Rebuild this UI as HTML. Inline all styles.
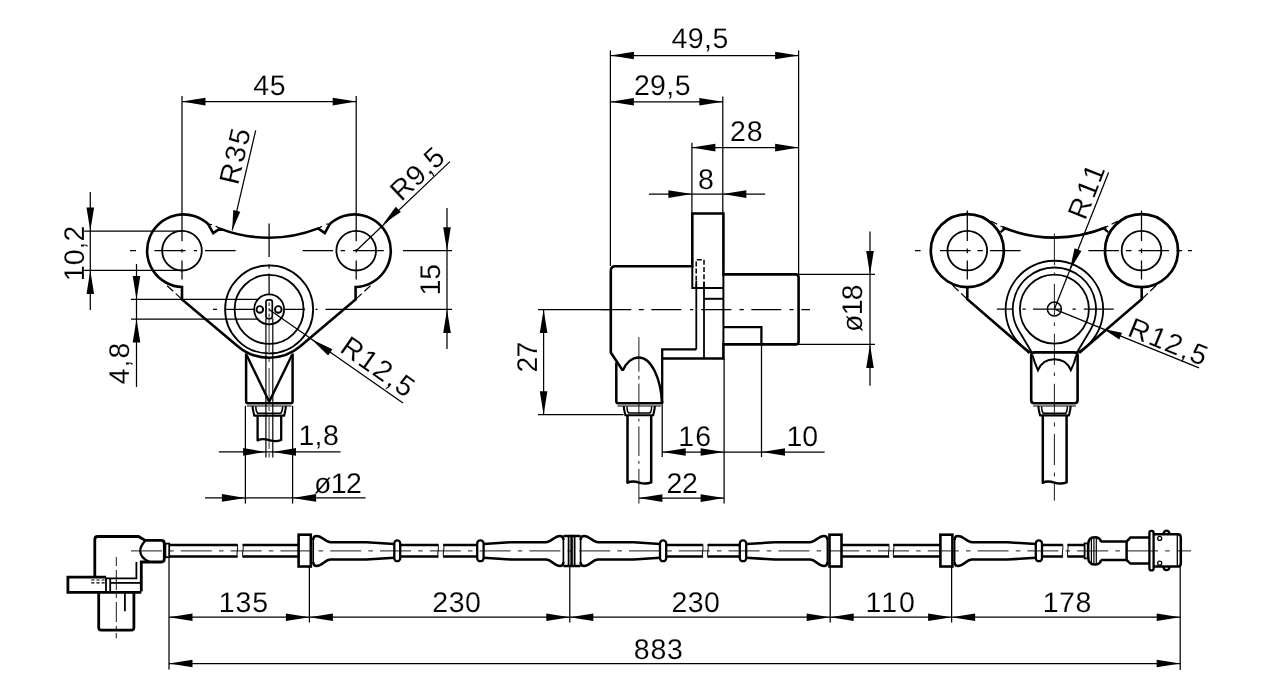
<!DOCTYPE html>
<html><head><meta charset="utf-8"><title>Drawing</title>
<style>
html,body{margin:0;padding:0;background:#fff;}
body{width:1280px;height:700px;overflow:hidden;}
svg{display:block;will-change:transform;}
svg *{stroke:#000;fill:none;}
svg text{text-rendering:geometricPrecision;font-family:"Liberation Sans",sans-serif;font-size:28.5px;fill:#000;stroke:#fff;stroke-width:0.15px;}
svg .a{fill:#000;stroke:none;}
</style></head><body>
<svg width="1280" height="700" viewBox="0 0 1280 700">
<rect x="0" y="0" width="1280" height="700" style="fill:#fff;stroke:none"/>
<g id="v1">
<path d="M208.3 224.3A36.3 36.3 0 1 0 182 287L182 299.4L238.07 346.41A48.3 48.3 0 0 0 300.33 346.25L355.6 299.4L355.6 287A36.3 36.3 0 1 0 329.6 224.3L324.8 233.1L318.2 228.4A135.5 135.5 0 0 1 219.9 228.6L213.2 233.1Z" stroke-width="2.6" stroke-linejoin="miter" stroke-linecap="butt" fill="none"/>
<line x1="208.3" y1="224.3" x2="212" y2="224.6" stroke-width="1.25"/>
<line x1="219.9" y1="228.6" x2="215.6" y2="226" stroke-width="1.25"/>
<line x1="329.6" y1="224.3" x2="326" y2="224" stroke-width="1.25"/>
<line x1="318.2" y1="228.4" x2="322" y2="226.2" stroke-width="1.25"/>
<line x1="182" y1="299.4" x2="167.1" y2="285.7" stroke-width="1.25" stroke-dasharray="8.5 3.5 8.2 9"/>
<line x1="355.6" y1="299.4" x2="370.5" y2="285.7" stroke-width="1.25" stroke-dasharray="8.5 3.5 8.2 9"/>
<circle cx="182" cy="250.7" r="19.8" stroke-width="1.8"/>
<circle cx="356.2" cy="250.7" r="19.8" stroke-width="1.8"/>
<circle cx="269.1" cy="309.4" r="44" stroke-width="1.8"/>
<circle cx="269.1" cy="309.4" r="34.5" stroke-width="1.8"/>
<circle cx="269.1" cy="309.4" r="15" stroke-width="1.8"/>
<circle cx="259.8" cy="309.4" r="3.3" stroke-width="1.9"/>
<circle cx="278.3" cy="309.4" r="3.3" stroke-width="1.9"/>
<rect x="266" y="299.8" width="6.3" height="18.8" rx="2.2" stroke-width="1.7"/>
<path d="M269.1 302.5V306M269.1 308V311.5M269.1 313.5V317" stroke-width="0.9" stroke-linejoin="round" stroke-linecap="butt" fill="none"/>
<path d="M265.9 318.6V457.5" stroke-width="1.2" stroke-linejoin="round" stroke-linecap="butt" fill="none"/>
<path d="M272.8 318.6V457.5" stroke-width="1.2" stroke-linejoin="round" stroke-linecap="butt" fill="none"/>
<path d="M246.1 353.5V401.2Q246.1 403.2 248.1 403.2H290.6Q292.6 403.2 292.6 401.2V353.5" stroke-width="2.5" stroke-linejoin="round" stroke-linecap="butt" fill="none"/>
<line x1="247" y1="406" x2="291.6" y2="406" stroke-width="1"/>
<path d="M246.6 355L269.2 401.8L292 355" stroke-width="2.4" stroke-linejoin="miter" stroke-linecap="butt" fill="none"/>
<path d="M252.6 406C252.6 410 253.6 412 254.2 415.6H284.2C284.8 412 285.8 410 285.8 406" stroke-width="2.1" stroke-linejoin="round" stroke-linecap="butt" fill="none"/>
<path d="M255.8 406.5C255.8 410 256.5 412 257.6 413.2H280.8C281.9 412 282.6 410 282.6 406.5" stroke-width="1.5" stroke-linejoin="round" stroke-linecap="butt" fill="none"/>
<path d="M257.6 415.6V440.4C261 438.6 265 438.8 269.2 440.2C273 441.4 277 441.6 281.2 440V415.6" stroke-width="2.3" stroke-linejoin="round" stroke-linecap="butt" fill="none"/>
<path d="M130 250.7H136M154.4 250.7H185.6M193.8 250.7H197M205 250.7H235.6M302.5 250.7H333M340.6 250.7H345M353 250.7H383.8" stroke-width="1.25" stroke-linejoin="round" stroke-linecap="butt" fill="none"/>
<path d="M182 249V252.4M182 260.6V279.4" stroke-width="1.25" stroke-linejoin="round" stroke-linecap="butt" fill="none"/>
<path d="M356.2 249V252.4M356.2 260.6V279.4" stroke-width="1.25" stroke-linejoin="round" stroke-linecap="butt" fill="none"/>
<path d="M269.1 223.5V257M269.1 264.5V268.5M269.1 273.5V294" stroke-width="1.25" stroke-linejoin="round" stroke-linecap="butt" fill="none"/>
<path d="M269.1 319V352M269.1 358V362M269.1 368V399" stroke-width="0.8" stroke-linejoin="round" stroke-linecap="butt" fill="none"/>
<path d="M269.1 407V411M269.1 417V449M269.1 453V457.5" stroke-width="0.8" stroke-linejoin="round" stroke-linecap="butt" fill="none"/>
<path d="M213 309.4H217M224.4 309.4H254M284.5 309.4H305M315.5 309.4H317.5M325.5 309.4H452" stroke-width="1.25" stroke-linejoin="round" stroke-linecap="butt" fill="none"/>
<line x1="182" y1="96" x2="182" y2="241.3" stroke-width="1.25"/>
<line x1="356.2" y1="96" x2="356.2" y2="241.3" stroke-width="1.25"/>
<line x1="182" y1="101.6" x2="356.2" y2="101.6" stroke-width="1.25"/>
<polygon class="a" points="182,101.6 205.5,97.8 205.5,105.4"/>
<polygon class="a" points="356.2,101.6 332.7,105.4 332.7,97.8"/>
<text x="253.34" y="95.2" letter-spacing="0.47">45</text>
<line x1="255.7" y1="130.3" x2="232.2" y2="230.3" stroke-width="1.25"/>
<polygon class="a" points="232.2,230.3 233.27,210.01 240.28,211.65"/>
<text x="-2.3" y="0" letter-spacing="1.86" transform="translate(238.6 183.4) rotate(-76.8)">R35</text>
<line x1="356.2" y1="250.7" x2="449.9" y2="161.6" stroke-width="1.25"/>
<polygon class="a" points="383.1,223.9 395.77,206.75 400.87,212.11"/>
<text x="-2.3" y="0" letter-spacing="0.74" transform="translate(402.9 200.7) rotate(-43.4)">R9,5</text>
<line x1="84" y1="231" x2="182" y2="231" stroke-width="1.25"/>
<line x1="84" y1="270.4" x2="182" y2="270.4" stroke-width="1.25"/>
<line x1="90.3" y1="192" x2="90.3" y2="310" stroke-width="1.25"/>
<polygon class="a" points="90.3,231 86.5,207.5 94.1,207.5"/>
<polygon class="a" points="90.3,270.4 94.1,293.9 86.5,293.9"/>
<text x="-2.19" y="0.9" letter-spacing="0.05" transform="translate(83 279) rotate(-90)">10,2</text>
<line x1="131" y1="299.4" x2="257.5" y2="299.4" stroke-width="1.25"/>
<line x1="131" y1="319.1" x2="257" y2="319.1" stroke-width="1.25"/>
<line x1="136.5" y1="264" x2="136.5" y2="387" stroke-width="1.25"/>
<polygon class="a" points="136.5,299.4 132.7,275.9 140.3,275.9"/>
<polygon class="a" points="136.5,319.1 140.3,342.6 132.7,342.6"/>
<text x="-0.66" y="0.9" letter-spacing="1.05" transform="translate(127.6 383.8) rotate(-90)">4,8</text>
<line x1="403" y1="250.7" x2="452" y2="250.7" stroke-width="1.25"/>
<line x1="447" y1="208" x2="447" y2="349" stroke-width="1.25"/>
<polygon class="a" points="447,250.7 443.2,227.2 450.8,227.2"/>
<polygon class="a" points="447,309.4 450.8,332.9 443.2,332.9"/>
<text x="-2.19" y="0.9" letter-spacing="-0.09" transform="translate(438.9 293.3) rotate(-90)">15</text>
<line x1="269.1" y1="309.4" x2="403" y2="402.9" stroke-width="1.25"/>
<polygon class="a" points="311.4,339.3 332.43,349.35 328.08,355.58"/>
<text x="-2.3" y="0" letter-spacing="1.61" transform="translate(340.3 352.4) rotate(34.93)">R12,5</text>
<line x1="218.8" y1="451.9" x2="340.6" y2="451.9" stroke-width="1.25"/>
<polygon class="a" points="265.6,451.9 243.1,455.7 243.1,448.1"/>
<polygon class="a" points="273,451.9 296,448.1 296,455.7"/>
<text x="298.41" y="444.9" letter-spacing="0.36">1,8</text>
<line x1="245.4" y1="405.8" x2="245.4" y2="503.6" stroke-width="1.25"/>
<line x1="292.6" y1="405.8" x2="292.6" y2="503.6" stroke-width="1.25"/>
<line x1="205" y1="497.9" x2="365.6" y2="497.9" stroke-width="1.25"/>
<polygon class="a" points="245.4,497.9 221.9,501.7 221.9,494.1"/>
<polygon class="a" points="292.6,497.9 316.1,494.1 316.1,501.7"/>
<text x="313.94" y="493.3" letter-spacing="-0.56">ø12</text>
</g>
<g id="v2">
<path d="M622.8 370.6L610.8 352.5V270.8Q610.8 266.3 615.3 266.3H692.3V213.5H723.4V274.4H795.6Q798.6 274.4 798.6 277.4V341.4Q798.6 344.4 795.6 344.4H723.4V358.5H662.2" stroke-width="2.6" stroke-linejoin="miter" stroke-linecap="butt" fill="none"/>
<path d="M692.3 266.3V288.1H723.4" stroke-width="2" stroke-linejoin="miter" stroke-linecap="butt" fill="none"/>
<line x1="723.4" y1="274.4" x2="723.4" y2="344.4" stroke-width="2"/>
<path d="M723.4 327.1H761.4V344.4" stroke-width="2.3" stroke-linejoin="miter" stroke-linecap="butt" fill="none"/>
<line x1="696.3" y1="281" x2="696.3" y2="349.4" stroke-width="1.8"/>
<line x1="704" y1="282" x2="704" y2="358.5" stroke-width="1.8"/>
<line x1="704" y1="298.8" x2="723.4" y2="298.8" stroke-width="2"/>
<path d="M696.3 349.4H662.2V403.5" stroke-width="2.3" stroke-linejoin="miter" stroke-linecap="butt" fill="none"/>
<path d="M696.2 288V259.8H704V288" stroke-width="1.5" stroke-linejoin="miter" stroke-linecap="butt" fill="none" stroke-dasharray="5 2.2"/>
<path d="M622.8 370.6C626 363 632 357.5 638.8 357.5C651.5 357.5 661 379 662 403.5" stroke-width="2.4" stroke-linejoin="round" stroke-linecap="butt" fill="none"/>
<path d="M616.3 362.5V401.2Q616.3 403.2 618.4 403.2H660.2Q662.2 403.2 662.2 401.2" stroke-width="2.5" stroke-linejoin="round" stroke-linecap="butt" fill="none"/>
<line x1="617.5" y1="406" x2="661" y2="406" stroke-width="1"/>
<path d="M623.8 406C623.8 410 624.8 412 625.4 415.2H653.2C653.8 412 654.8 410 654.8 406" stroke-width="2.1" stroke-linejoin="round" stroke-linecap="butt" fill="none"/>
<path d="M627 406.5C627 410 627.6 412 628.6 413H650C651 412 651.6 410 651.6 406.5" stroke-width="1.5" stroke-linejoin="round" stroke-linecap="butt" fill="none"/>
<path d="M627.5 415.2V482.7C631 481 635 481.2 639.2 482.6C643 483.8 647 484 651.2 482.4V415.2" stroke-width="2.5" stroke-linejoin="round" stroke-linecap="butt" fill="none"/>
<path d="M601.3 309.5H631.3M638.8 309.5H643.8M651.3 309.5H681.3M690 309.5H693.2M701.3 309.5H731.3M739.5 309.5H743.8M751.3 309.5H781.3M789.5 309.5H793.5M801.3 309.5H810" stroke-width="1.25" stroke-linejoin="round" stroke-linecap="butt" fill="none"/>
<path d="M638.9 337.2V371.7M638.9 375.8V379.4M638.9 383.5V413.6M638.9 418.7V421.5M638.9 426.4V456M638.9 461V463.8M638.9 468.9V503.6" stroke-width="0.9" stroke-linejoin="round" stroke-linecap="butt" fill="none"/>
<line x1="610.4" y1="50.4" x2="610.4" y2="266" stroke-width="1.25"/>
<line x1="798.6" y1="50.4" x2="798.6" y2="274" stroke-width="1.25"/>
<line x1="610.4" y1="55.5" x2="798.6" y2="55.5" stroke-width="1.25"/>
<polygon class="a" points="610.4,55.5 633.9,51.7 633.9,59.3"/>
<polygon class="a" points="798.6,55.5 775.1,59.3 775.1,51.7"/>
<text x="671.44" y="47.9" letter-spacing="0.47">49,5</text>
<line x1="722.8" y1="96.4" x2="722.8" y2="213.5" stroke-width="1.25"/>
<line x1="610.4" y1="101.8" x2="722.8" y2="101.8" stroke-width="1.25"/>
<polygon class="a" points="610.4,101.8 633.9,98 633.9,105.6"/>
<polygon class="a" points="722.8,101.8 699.3,105.6 699.3,98"/>
<text x="633.88" y="94.7" letter-spacing="0.39">29,5</text>
<line x1="691.9" y1="142.7" x2="691.9" y2="213.5" stroke-width="1.25"/>
<line x1="691.9" y1="147.6" x2="798.6" y2="147.6" stroke-width="1.25"/>
<polygon class="a" points="691.9,147.6 715.4,143.8 715.4,151.4"/>
<polygon class="a" points="798.6,147.6 775.1,151.4 775.1,143.8"/>
<text x="729.88" y="141" letter-spacing="1.05">28</text>
<line x1="648.9" y1="194.1" x2="765.2" y2="194.1" stroke-width="1.25"/>
<polygon class="a" points="691.9,194.1 668.4,197.9 668.4,190.3"/>
<polygon class="a" points="722.8,194.1 746.3,190.3 746.3,197.9"/>
<text x="697.89" y="188.6" letter-spacing="0">8</text>
<line x1="538" y1="309.5" x2="610" y2="309.5" stroke-width="1.25"/>
<line x1="538" y1="414.7" x2="623.5" y2="414.7" stroke-width="1.25"/>
<line x1="543.6" y1="309.5" x2="543.6" y2="414.7" stroke-width="1.25"/>
<polygon class="a" points="543.6,309.5 547.4,333 539.8,333"/>
<polygon class="a" points="543.6,414.7 539.8,391.2 547.4,391.2"/>
<text x="-1.43" y="0.9" letter-spacing="-0.94" transform="translate(536 371) rotate(-90)">27</text>
<line x1="798.6" y1="274.4" x2="875" y2="274.4" stroke-width="1.25"/>
<line x1="798.6" y1="344.4" x2="875" y2="344.4" stroke-width="1.25"/>
<line x1="870" y1="231.4" x2="870" y2="385.7" stroke-width="1.25"/>
<polygon class="a" points="870,274.4 866.2,250.9 873.8,250.9"/>
<polygon class="a" points="870,344.4 873.8,367.9 866.2,367.9"/>
<text x="-0.66" y="0.9" letter-spacing="-0.72" transform="translate(861.5 331.4) rotate(-90)">ø18</text>
<line x1="662.2" y1="403.6" x2="662.2" y2="457" stroke-width="1.25"/>
<line x1="724.1" y1="358.5" x2="724.1" y2="503.6" stroke-width="1.25"/>
<line x1="761.5" y1="344.4" x2="761.5" y2="457" stroke-width="1.25"/>
<line x1="662.2" y1="452" x2="824.6" y2="452" stroke-width="1.25"/>
<polygon class="a" points="662.2,452 685.7,448.2 685.7,455.8"/>
<polygon class="a" points="724.1,452 700.6,455.8 700.6,448.2"/>
<polygon class="a" points="761.5,452 785,448.2 785,455.8"/>
<text x="678.21" y="446" letter-spacing="1.12">16</text>
<text x="786.51" y="446" letter-spacing="0.01">10</text>
<line x1="638.9" y1="498.1" x2="724.1" y2="498.1" stroke-width="1.25"/>
<polygon class="a" points="638.9,498.1 662.4,494.3 662.4,501.9"/>
<polygon class="a" points="724.1,498.1 700.6,501.9 700.6,494.3"/>
<text x="666.38" y="492.7" letter-spacing="-0.14">22</text>
</g>
<g id="v3">
<circle cx="967.3" cy="250.6" r="36.5" stroke-width="2.7"/>
<circle cx="1141.5" cy="250.6" r="36.5" stroke-width="2.7"/>
<circle cx="967.3" cy="250.6" r="19.8" stroke-width="1.8"/>
<circle cx="1141.5" cy="250.6" r="19.8" stroke-width="1.8"/>
<path d="M1002.6 227.3A135.5 135.5 0 0 0 1106.2 227.3" stroke-width="2.6" stroke-linejoin="round" stroke-linecap="butt" fill="none"/>
<path d="M1005.5 228.2L1000.6 232.2" stroke-width="2.2" stroke-linejoin="round" stroke-linecap="butt" fill="none"/>
<path d="M1103.3 228.2L1108.2 232.2" stroke-width="2.2" stroke-linejoin="round" stroke-linecap="butt" fill="none"/>
<line x1="991" y1="221" x2="997.2" y2="224.2" stroke-width="1.25"/>
<line x1="1000.5" y1="226" x2="1003.5" y2="227.3" stroke-width="1.25"/>
<line x1="1117.8" y1="221" x2="1111.6" y2="224.2" stroke-width="1.25"/>
<line x1="1108.3" y1="226" x2="1105.3" y2="227.3" stroke-width="1.25"/>
<path d="M967.3 287.1V299.2L1029.7 353" stroke-width="2.6" stroke-linejoin="miter" stroke-linecap="butt" fill="none"/>
<path d="M1141.7 287.1V299.2L1079.1 353" stroke-width="2.6" stroke-linejoin="miter" stroke-linecap="butt" fill="none"/>
<line x1="967.3" y1="299.2" x2="952.4" y2="285.2" stroke-width="1.25" stroke-dasharray="8.5 3.5 8.2 9"/>
<line x1="1141.7" y1="299.2" x2="1156.4" y2="285.2" stroke-width="1.25" stroke-dasharray="8.5 3.5 8.2 9"/>
<path d="M1031.2 352.5A48.8 48.8 0 1 1 1077.6 352.5" stroke-width="1.8" stroke-linejoin="round" stroke-linecap="butt" fill="none"/>
<path d="M1032.2 353L1018.71 330.47A41.6 41.6 0 1 1 1090.09 330.47L1076.6 353" stroke-width="1.8" stroke-linejoin="round" stroke-linecap="butt" fill="none"/>
<circle cx="1054.4" cy="309.1" r="34.5" stroke-width="1.8"/>
<circle cx="1054.4" cy="309.1" r="7" stroke-width="1.5"/>
<path d="M1031.2 356V400.2Q1031.2 403.2 1034.2 403.2H1074.6Q1077.6 403.2 1077.6 400.2V356Q1077.6 352.4 1074.1 352.4H1034.7Q1031.2 352.4 1031.2 356Z" stroke-width="2.6" stroke-linejoin="round" stroke-linecap="butt" fill="none"/>
<line x1="1033" y1="406" x2="1076" y2="406" stroke-width="1"/>
<path d="M1032.6 355.5C1034 361 1036 366 1038 370.2C1041 363 1047 359.3 1054.4 359.3C1062 359.3 1068 363 1070.8 370.2C1073 366 1075 361 1076.2 355.5" stroke-width="2" stroke-linejoin="miter" stroke-linecap="butt" fill="none"/>
<path d="M1038.4 406C1038.4 410 1039.4 412 1040 415.4H1069C1069.6 412 1070.6 410 1070.6 406" stroke-width="2.1" stroke-linejoin="round" stroke-linecap="butt" fill="none"/>
<path d="M1041.6 406.5C1041.6 410 1042.2 412 1043.2 413.3H1065.8C1066.8 412 1067.4 410 1067.4 406.5" stroke-width="1.5" stroke-linejoin="round" stroke-linecap="butt" fill="none"/>
<path d="M1042.8 415.4V482.8C1046 481 1050 481.2 1054.4 482.6C1058 483.8 1062 484 1066.6 482.4V415.4" stroke-width="2.5" stroke-linejoin="round" stroke-linecap="butt" fill="none"/>
<path d="M915 250.6H920.6M940 250.6H970.6M977.5 250.6H983M990 250.6H1020.6M1088.4 250.6H1119M1126 250.6H1131.5M1138.5 250.6H1169M1176.5 250.6H1182M1188 250.6H1192" stroke-width="1.25" stroke-linejoin="round" stroke-linecap="butt" fill="none"/>
<path d="M967.3 210.6V241M967.3 248.5V253.2M967.3 260.6V279.4" stroke-width="1.25" stroke-linejoin="round" stroke-linecap="butt" fill="none"/>
<path d="M1141.5 210.6V241M1141.5 248.5V253.2M1141.5 260.6V279.4" stroke-width="1.25" stroke-linejoin="round" stroke-linecap="butt" fill="none"/>
<path d="M996.9 309.1H1012.5M1022.5 309.1H1025.8M1033 309.1H1062M1072.5 309.1H1075.8M1083.8 309.1H1113.8" stroke-width="1.25" stroke-linejoin="round" stroke-linecap="butt" fill="none"/>
<path d="M1054.4 233.5V265M1054.4 272.5V275.5M1054.4 283.8V315M1054.4 322.5V326M1054.4 333.8V365M1054.4 372.5V376M1054.4 383.8V415M1054.4 422.5V426.5M1054.4 433.8V465M1054.4 472.5V476.5M1054.4 483.8V500.6" stroke-width="0.9" stroke-linejoin="round" stroke-linecap="butt" fill="none"/>
<line x1="1054.4" y1="309.1" x2="1108.6" y2="172.4" stroke-width="1.25"/>
<polygon class="a" points="1069.7,270.52 1074.55,248.24 1081.43,250.97"/>
<text x="-2.3" y="0" letter-spacing="2.76" transform="translate(1086 219) rotate(-68.37)">R11</text>
<line x1="1054.4" y1="309.1" x2="1199" y2="367.9" stroke-width="1.25"/>
<polygon class="a" points="1103.5,329.1 1121.99,332.73 1119.28,339.4"/>
<text x="-2.3" y="0" letter-spacing="1.61" transform="translate(1128.5 336) rotate(22.13)">R12,5</text>
</g>
<g id="v4">
<path d="M94.8 577.2V539.5Q94.8 536.5 97.8 536.5H138.5L145.2 540.4H161.3Q164.3 540.4 164.3 543.4V559Q164.3 562 161.3 562H141.3V591.5" stroke-width="2.8" stroke-linejoin="miter" stroke-linecap="butt" fill="none"/>
<path d="M145.4 540.6C141.5 545 140.2 548 140.2 550.8C140.2 555 143 559 149 561.6" stroke-width="2.3" stroke-linejoin="round" stroke-linecap="butt" fill="none"/>
<path d="M136.4 562V578.4H106" stroke-width="1.8" stroke-linejoin="miter" stroke-linecap="butt" fill="none"/>
<path d="M141.3 592.4H67.9V577.2H106" stroke-width="2.8" stroke-linejoin="miter" stroke-linecap="butt" fill="none"/>
<line x1="106" y1="577.2" x2="106" y2="592.4" stroke-width="1.8"/>
<line x1="110.2" y1="578.4" x2="110.2" y2="592.4" stroke-width="1.8"/>
<line x1="110.2" y1="582.9" x2="141.3" y2="582.9" stroke-width="1.8"/>
<path d="M91.2 580H104.6M91.2 582.9H104.6" stroke-width="1.1" stroke-linejoin="round" stroke-linecap="butt" fill="none" stroke-dasharray="3.2 2"/>
<path d="M98.7 592.4V627.6Q98.7 630.2 101.3 630.2H131.3Q133.9 630.2 133.9 627.6V592.4" stroke-width="2.8" stroke-linejoin="round" stroke-linecap="butt" fill="none"/>
<line x1="124.9" y1="592.4" x2="124.9" y2="611.2" stroke-width="1.8"/>
<path d="M116.3 557V566M116.3 570V590M116.3 594V598M116.3 602V622M116.3 626V630M116.3 633V638.3" stroke-width="0.9" stroke-linejoin="round" stroke-linecap="butt" fill="none"/>
<rect x="165.4" y="543.6" width="3.8" height="13.6" stroke-width="1.8"/>
<path d="M169.2 544.9H237.3M169.2 556.6H237.3" stroke-width="2.5" stroke-linejoin="round" stroke-linecap="butt" fill="none"/>
<path d="M242.9 544.9H298.6M242.9 556.6H298.6" stroke-width="2.5" stroke-linejoin="round" stroke-linecap="butt" fill="none"/>
<path d="M237.3 543.9C238.5 548.9 236.1 552.9 237.3 557.6" stroke-width="1" stroke-linejoin="round" stroke-linecap="butt" fill="none"/>
<path d="M242.9 543.9C244.1 548.9 241.7 552.9 242.9 557.6" stroke-width="1" stroke-linejoin="round" stroke-linecap="butt" fill="none"/>
<rect x="298.6" y="534.7" width="12.2" height="31.8" stroke-width="2.6"/>
<path d="M313.2 539.9Q313.2 535.9 316.7 535.9C322.7 535.9 324.7 542.3 330.7 542.3L366.2 542.3L394.3 544" stroke-width="2.5" stroke-linejoin="round" stroke-linecap="butt" fill="none"/>
<path d="M313.2 561.9Q313.2 565.9 316.7 565.9C322.7 565.9 324.7 559.5 330.7 559.5L366.2 559.5L394.3 557.8" stroke-width="2.5" stroke-linejoin="round" stroke-linecap="butt" fill="none"/>
<line x1="313.2" y1="539.4" x2="313.2" y2="562.4" stroke-width="1.7"/>
<rect x="394.3" y="540.4" width="5.9" height="20.8" rx="3" stroke-width="2.3"/>
<path d="M400.2 544.9H438.1M400.2 556.6H438.1" stroke-width="2.5" stroke-linejoin="round" stroke-linecap="butt" fill="none"/>
<path d="M443.6 544.9H477.2M443.6 556.6H477.2" stroke-width="2.5" stroke-linejoin="round" stroke-linecap="butt" fill="none"/>
<path d="M438.1 543.9C439.3 548.9 436.9 552.9 438.1 557.6" stroke-width="1" stroke-linejoin="round" stroke-linecap="butt" fill="none"/>
<path d="M443.6 543.9C444.8 548.9 442.4 552.9 443.6 557.6" stroke-width="1" stroke-linejoin="round" stroke-linecap="butt" fill="none"/>
<rect x="477.2" y="540.4" width="6.4" height="20.8" rx="3" stroke-width="2.3"/>
<path d="M563.4 539.9Q563.4 535.9 559.9 535.9C553.9 535.9 551.9 542.3 545.9 542.3L510.4 542.3L483.6 544" stroke-width="2.5" stroke-linejoin="round" stroke-linecap="butt" fill="none"/>
<path d="M563.4 561.9Q563.4 565.9 559.9 565.9C553.9 565.9 551.9 559.5 545.9 559.5L510.4 559.5L483.6 557.8" stroke-width="2.5" stroke-linejoin="round" stroke-linecap="butt" fill="none"/>
<line x1="563.4" y1="539.4" x2="563.4" y2="562.4" stroke-width="1.7"/>
<line x1="568.6" y1="535.9" x2="568.6" y2="566" stroke-width="1.8"/>
<line x1="571.6" y1="534.8" x2="571.6" y2="567" stroke-width="2.5"/>
<line x1="574.6" y1="535.9" x2="574.6" y2="566" stroke-width="1.8"/>
<path d="M563.4 535.9H580.6M563.4 565.9H580.6" stroke-width="2.5" stroke-linejoin="round" stroke-linecap="butt" fill="none"/>
<path d="M580.6 539.9Q580.6 535.9 584.1 535.9C590.1 535.9 592.1 542.3 598.1 542.3L633.6 542.3L660 544" stroke-width="2.5" stroke-linejoin="round" stroke-linecap="butt" fill="none"/>
<path d="M580.6 561.9Q580.6 565.9 584.1 565.9C590.1 565.9 592.1 559.5 598.1 559.5L633.6 559.5L660 557.8" stroke-width="2.5" stroke-linejoin="round" stroke-linecap="butt" fill="none"/>
<line x1="580.6" y1="539.4" x2="580.6" y2="562.4" stroke-width="1.7"/>
<rect x="660" y="540.4" width="6.2" height="20.8" rx="3" stroke-width="2.3"/>
<path d="M666.2 544.9H702.7M666.2 556.6H702.7" stroke-width="2.5" stroke-linejoin="round" stroke-linecap="butt" fill="none"/>
<path d="M707.9 544.9H739.8M707.9 556.6H739.8" stroke-width="2.5" stroke-linejoin="round" stroke-linecap="butt" fill="none"/>
<path d="M702.7 543.9C703.9 548.9 701.5 552.9 702.7 557.6" stroke-width="1" stroke-linejoin="round" stroke-linecap="butt" fill="none"/>
<path d="M707.9 543.9C709.1 548.9 706.7 552.9 707.9 557.6" stroke-width="1" stroke-linejoin="round" stroke-linecap="butt" fill="none"/>
<rect x="739.8" y="540.4" width="6.4" height="20.8" rx="3" stroke-width="2.3"/>
<path d="M827.4 539.9Q827.4 535.9 823.9 535.9C817.9 535.9 815.9 542.3 809.9 542.3L774.4 542.3L746.2 544" stroke-width="2.5" stroke-linejoin="round" stroke-linecap="butt" fill="none"/>
<path d="M827.4 561.9Q827.4 565.9 823.9 565.9C817.9 565.9 815.9 559.5 809.9 559.5L774.4 559.5L746.2 557.8" stroke-width="2.5" stroke-linejoin="round" stroke-linecap="butt" fill="none"/>
<line x1="827.4" y1="539.4" x2="827.4" y2="562.4" stroke-width="1.7"/>
<rect x="829.5" y="534.7" width="12" height="31.8" stroke-width="2.6"/>
<path d="M841.5 544.9H888.8M841.5 556.6H888.8" stroke-width="2.5" stroke-linejoin="round" stroke-linecap="butt" fill="none"/>
<path d="M893.6 544.9H940.4M893.6 556.6H940.4" stroke-width="2.5" stroke-linejoin="round" stroke-linecap="butt" fill="none"/>
<path d="M888.8 543.9C890 548.9 887.6 552.9 888.8 557.6" stroke-width="1" stroke-linejoin="round" stroke-linecap="butt" fill="none"/>
<path d="M893.6 543.9C894.8 548.9 892.4 552.9 893.6 557.6" stroke-width="1" stroke-linejoin="round" stroke-linecap="butt" fill="none"/>
<rect x="940.4" y="534.7" width="12" height="31.8" stroke-width="2.6"/>
<path d="M954.6 539.9Q954.6 535.9 958.1 535.9C964.1 535.9 966.1 542.3 972.1 542.3L1007.6 542.3L1035.8 544" stroke-width="2.5" stroke-linejoin="round" stroke-linecap="butt" fill="none"/>
<path d="M954.6 561.9Q954.6 565.9 958.1 565.9C964.1 565.9 966.1 559.5 972.1 559.5L1007.6 559.5L1035.8 557.8" stroke-width="2.5" stroke-linejoin="round" stroke-linecap="butt" fill="none"/>
<line x1="954.6" y1="539.4" x2="954.6" y2="562.4" stroke-width="1.7"/>
<rect x="1035.8" y="540.4" width="6.2" height="20.8" rx="3" stroke-width="2.3"/>
<path d="M1042 544.9H1062.6M1042 556.6H1062.6" stroke-width="2.5" stroke-linejoin="round" stroke-linecap="butt" fill="none"/>
<path d="M1067.8 544.9H1084.6M1067.8 556.6H1084.6" stroke-width="2.5" stroke-linejoin="round" stroke-linecap="butt" fill="none"/>
<path d="M1062.6 543.9C1063.8 548.9 1061.4 552.9 1062.6 557.6" stroke-width="1" stroke-linejoin="round" stroke-linecap="butt" fill="none"/>
<path d="M1067.8 543.9C1069 548.9 1066.6 552.9 1067.8 557.6" stroke-width="1" stroke-linejoin="round" stroke-linecap="butt" fill="none"/>
<rect x="1084.6" y="543.4" width="3.2" height="15" stroke-width="1.8"/>
<path d="M1088.2 545C1088.2 539.5 1090.5 537.3 1094.5 537.3C1098.5 537.3 1100.6 539 1101 542M1088.2 556.8C1088.2 562.3 1090.5 564.5 1094.5 564.5C1098.5 564.5 1100.6 562.8 1101 559.8M1088.2 545V556.8" stroke-width="2.5" stroke-linejoin="round" stroke-linecap="butt" fill="none"/>
<line x1="1091.4" y1="538.6" x2="1091.4" y2="563.2" stroke-width="1.2"/>
<line x1="1093.9" y1="537.6" x2="1093.9" y2="564.2" stroke-width="1.2"/>
<line x1="1096.3" y1="537.8" x2="1096.3" y2="564" stroke-width="1.2"/>
<path d="M1100.8 541.6H1126.6M1100.8 560H1126.6" stroke-width="2.5" stroke-linejoin="round" stroke-linecap="butt" fill="none"/>
<path d="M1149.3 537.6H1130.4L1126.6 541.6V560L1130.4 563.6H1149.3" stroke-width="2.5" stroke-linejoin="miter" stroke-linecap="butt" fill="none"/>
<rect x="1149.4" y="530.8" width="4.2" height="39.6" rx="2" stroke-width="2.3"/>
<path d="M1153.6 534.2H1177.6Q1180.8 534.2 1180.8 537.4V563.4Q1180.8 566.6 1177.6 566.6H1153.6" stroke-width="2.5" stroke-linejoin="round" stroke-linecap="butt" fill="none"/>
<line x1="1177.3" y1="534.2" x2="1177.3" y2="566.6" stroke-width="1.3"/>
<path d="M1163.4 534.2Q1163.8 530.6 1166.5 530.6Q1169.2 530.6 1169.6 534.2" stroke-width="2.2" stroke-linejoin="round" stroke-linecap="butt" fill="none"/>
<path d="M1163.4 566.6Q1163.8 570.2 1166.5 570.2Q1169.2 570.2 1169.6 566.6" stroke-width="2.2" stroke-linejoin="round" stroke-linecap="butt" fill="none"/>
<circle cx="1159.7" cy="538.4" r="2" stroke-width="1.3"/>
<circle cx="1159.7" cy="563.2" r="2" stroke-width="1.3"/>
<path d="M131 550.9H162M169.2 550.9H173.7M180.8 550.9H211.8M219 550.9H223.5M230.6 550.9H261.6M268.8 550.9H273.3M280.4 550.9H311.4M318.6 550.9H323.1M330.2 550.9H361.2M368.4 550.9H372.9M380 550.9H411M418.2 550.9H422.7M429.8 550.9H460.8M468 550.9H472.5M479.6 550.9H510.6M517.8 550.9H522.3M529.4 550.9H560.4M567.6 550.9H572.1M579.2 550.9H610.2M617.4 550.9H621.9M629 550.9H660M667.2 550.9H671.7M678.8 550.9H709.8M717 550.9H721.5M728.6 550.9H759.6M766.8 550.9H771.3M778.4 550.9H809.4M816.6 550.9H821.1M828.2 550.9H859.2M866.4 550.9H870.9M878 550.9H909M916.2 550.9H920.7M927.8 550.9H958.8M966 550.9H970.5M977.6 550.9H1008.6M1015.8 550.9H1020.3M1027.4 550.9H1058.4M1065.6 550.9H1070.1M1077.2 550.9H1108.2M1115.4 550.9H1119.9M1127 550.9H1158M1165.2 550.9H1169.7M1176.8 550.9H1191" stroke-width="0.9" stroke-linejoin="round" stroke-linecap="butt" fill="none"/>
<line x1="169" y1="557.5" x2="169" y2="669.5" stroke-width="1.25"/>
<line x1="309.4" y1="566.5" x2="309.4" y2="622.5" stroke-width="1.25"/>
<line x1="569.8" y1="567" x2="569.8" y2="622.5" stroke-width="1.25"/>
<line x1="830.2" y1="566.5" x2="830.2" y2="622.5" stroke-width="1.25"/>
<line x1="951.6" y1="566.5" x2="951.6" y2="622.5" stroke-width="1.25"/>
<line x1="1180.2" y1="566.6" x2="1180.2" y2="670" stroke-width="1.25"/>
<line x1="169" y1="617.2" x2="1180.2" y2="617.2" stroke-width="1.25"/>
<line x1="169" y1="663.5" x2="1180.2" y2="663.5" stroke-width="1.25"/>
<polygon class="a" points="169,617.2 192.5,613.4 192.5,621"/>
<polygon class="a" points="309.4,617.2 285.9,621 285.9,613.4"/>
<polygon class="a" points="309.4,617.2 332.9,613.4 332.9,621"/>
<polygon class="a" points="569.8,617.2 546.3,621 546.3,613.4"/>
<polygon class="a" points="569.8,617.2 593.3,613.4 593.3,621"/>
<polygon class="a" points="830.2,617.2 806.7,621 806.7,613.4"/>
<polygon class="a" points="830.2,617.2 853.7,613.4 853.7,621"/>
<polygon class="a" points="951.6,617.2 928.1,621 928.1,613.4"/>
<polygon class="a" points="951.6,617.2 975.1,613.4 975.1,621"/>
<polygon class="a" points="1180.2,617.2 1156.7,621 1156.7,613.4"/>
<polygon class="a" points="169,663.5 192.5,659.7 192.5,667.3"/>
<polygon class="a" points="1180.2,663.5 1156.7,667.3 1156.7,659.7"/>
<text x="218.81" y="612.1" letter-spacing="0.86">135</text>
<text x="432.27" y="612.1" letter-spacing="0.53">230</text>
<text x="671.58" y="612.1" letter-spacing="0.38">230</text>
<text x="865.61" y="612.1" letter-spacing="1.95">110</text>
<text x="1042.81" y="612.1" letter-spacing="0.47">178</text>
<text x="633.79" y="658.9" letter-spacing="0.82">883</text>
</g>
</svg>
</body></html>
